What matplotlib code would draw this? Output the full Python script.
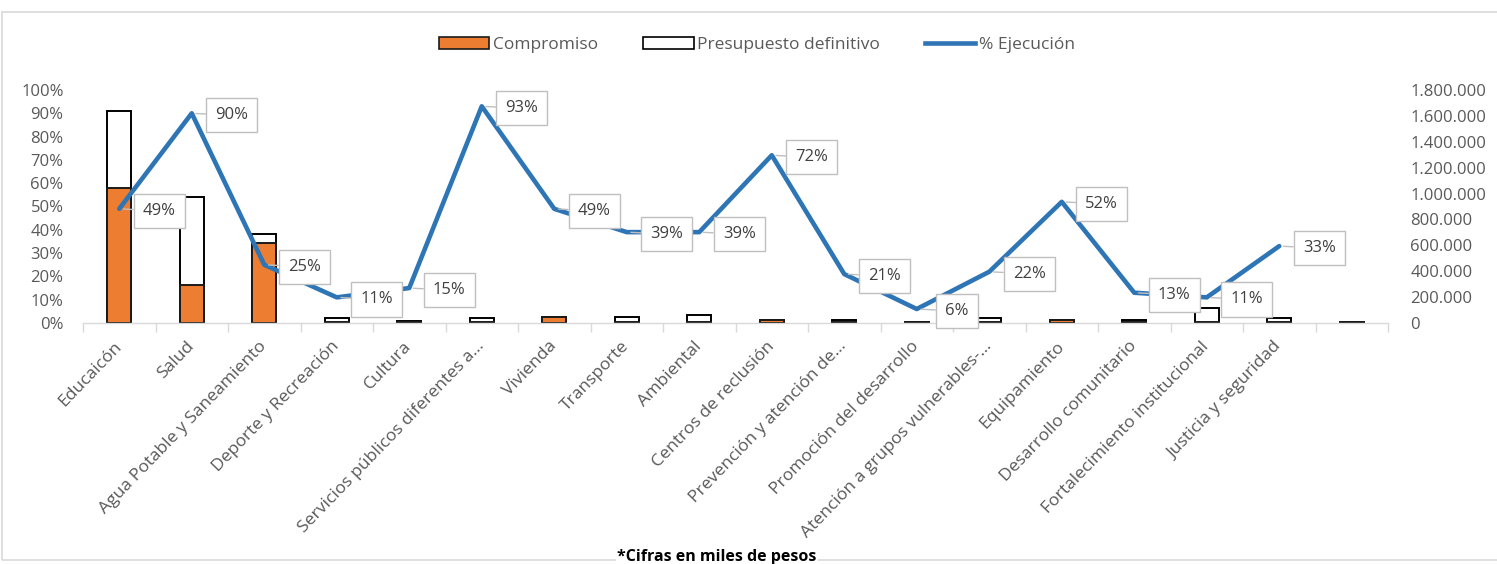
import numpy as np
import matplotlib
matplotlib.use("Agg")
import matplotlib.pyplot as plt
from matplotlib.patches import Patch, Rectangle
from matplotlib.lines import Line2D
from matplotlib.ticker import FuncFormatter, FixedLocator

plt.rcParams['font.family'] = ['Open Sans', 'DejaVu Sans']

# data (miles de pesos)
categorias = ["Educaicón", "Salud", "Agua Potable y Saneamiento", "Deporte y Recreación",
              "Cultura", "Servicios públicos diferentes a...", "Vivienda", "Transporte",
              "Ambiental", "Centros de reclusión", "Prevención y atención de...",
              "Promoción del desarrollo", "Atención a grupos vulnerables-...", "Equipamiento",
              "Desarrollo comunitario", "Fortalecimiento institucional", "Justicia y seguridad", ""]
presupuesto = [1635000, 975000, 688000, 40000, 12000, 35000, 50000, 50000, 65000,
               25000, 25000, 10000, 35000, 25000, 25000, 116000, 35000, 10000]
compromiso = [1045000, 292000, 618000, 5000, 8000, 5000, 45000, 8000, 5000,
              20000, 5000, 8000, 5000, 20000, 5000, 8000, 5000, 8000]
ejecucion = [49, 90, 25, 11, 15, 93, 49, 39, 39, 72, 21, 6, 22, 52, 13, 11, 33, np.nan]

ORANGE = '#ED7D31'
BLUE = '#2E75B6'
GRAY_TXT = '#595959'
GRID = '#D9D9D9'

W, H = 1497, 564
fig = plt.figure(figsize=(W / 100, H / 100), dpi=100)
ax = fig.add_axes([83 / W, 1 - 323 / H, (1388 - 83) / W, (323 - 90) / H])
ax2 = ax.twinx()

x = np.arange(len(categorias))
ax2.bar(x, presupuesto, width=0.33, color='white', edgecolor='black', linewidth=1.4, zorder=2)
ax2.bar(x, compromiso, width=0.33, color=ORANGE, edgecolor='#1a1a1a', linewidth=1.4, zorder=3)

pct = np.array(ejecucion, dtype=float) / 100
ax.plot(x, pct, color=BLUE, lw=3.3, solid_joinstyle='round', solid_capstyle='round', zorder=3)

# line on top of bars
ax.set_zorder(ax2.get_zorder() + 1)
ax.patch.set_visible(False)

for i, v in enumerate(ejecucion):
    if np.isnan(v):
        continue
    ax.annotate("%d%%" % v, xy=(i, v / 100), xytext=(40, -2), textcoords='offset pixels',
                ha='center', va='center', fontsize=12, color='#404040', zorder=5,
                bbox=dict(boxstyle='square,pad=0.55', fc='white', ec='#BFBFBF', lw=1),
                arrowprops=dict(arrowstyle='-', color='#BFBFBF', lw=1, shrinkA=0, shrinkB=3))

ax.set_xlim(-0.5, len(categorias) - 0.5)
ax.set_ylim(0, 1)
ax2.set_ylim(0, 1800000)

ax.set_yticks(np.arange(0, 1.01, 0.1))
ax.yaxis.set_major_formatter(FuncFormatter(lambda v, p: "%d%%" % round(v * 100)))
ax.tick_params(axis='y', length=0, pad=14, labelsize=12, labelcolor=GRAY_TXT)

ax2.set_yticks(np.arange(0, 1800001, 200000))
ax2.yaxis.set_major_formatter(FuncFormatter(lambda v, p: "{:,}".format(int(v)).replace(',', '.')))
ax2.tick_params(axis='y', length=0, pad=16, labelsize=12, labelcolor=GRAY_TXT)

ax.set_xticks(x)
ax.set_xticklabels(categorias, rotation=46, ha='right', va='center', rotation_mode='anchor')
ax.tick_params(axis='x', which='major', length=0, pad=15, labelsize=12.6, labelcolor=GRAY_TXT)
ax.xaxis.set_minor_locator(FixedLocator(np.arange(-0.5, len(categorias), 1)))
ax.tick_params(axis='x', which='minor', length=6.5, width=1, color=GRID)

for s in ['top', 'left', 'right']:
    ax.spines[s].set_visible(False)
ax.spines['bottom'].set_color(GRID)
ax.spines['bottom'].set_linewidth(1)
for s in ax2.spines.values():
    s.set_visible(False)

handles = [Patch(facecolor=ORANGE, edgecolor='#1a1a1a', linewidth=1.2),
           Patch(facecolor='white', edgecolor='black', linewidth=1.2),
           Line2D([0], [0], color=BLUE, lw=3.3)]
fig.legend(handles, ["Compromiso", "Presupuesto definitivo", "% Ejecución"],
           loc='center', bbox_to_anchor=(757 / W, 1 - 45 / H), ncol=3, frameon=False,
           fontsize=12.5, labelcolor=GRAY_TXT, handlelength=2.9, handleheight=0.7,
           handletextpad=0.2, columnspacing=2.6)

# chart frame
fig.patches.append(Rectangle((2 / W, 1 - 560 / H), 1.0, (560 - 12) / H, transform=fig.transFigure,
                             fill=False, edgecolor=GRID, linewidth=1.2, zorder=0))
fig.text(717 / W, 1 - 557 / H, "*Cifras en miles de pesos", ha='center', va='center',
         fontsize=11.5, fontweight='bold', color='black',
         bbox=dict(fc='white', ec='none', pad=1))

fig.savefig('out.png', dpi=100)
